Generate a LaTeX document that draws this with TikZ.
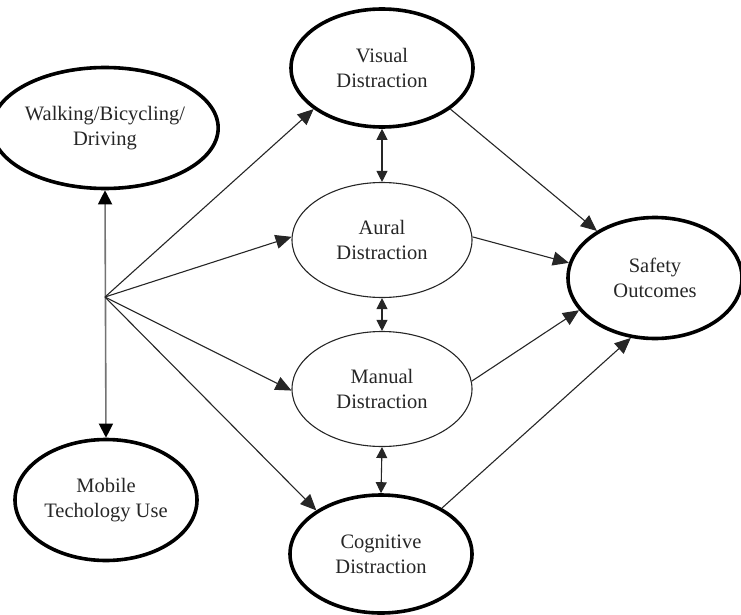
\documentclass[tikz,border=0pt]{standalone}
\usepackage{fontspec}
\setmainfont{Liberation Serif}
\usetikzlibrary{arrows.meta,shapes.geometric}
\begin{document}
\begin{tikzpicture}[x=1pt,y=-1pt,
  oval/.style={ellipse,draw,inner sep=0pt,align=center,
    font=\fontsize{20.5}{25}\selectfont,text=black!85},
  thickoval/.style={oval,line width=3.6pt},
  thinoval/.style={oval,line width=1.1pt,draw=black!85},
  conn/.style={line width=1.1pt,draw=black!85,-{Triangle[length=16pt,width=14pt]}},
  dbl/.style={line width=1.1pt,draw=black!85,{Triangle[length=11pt,width=11pt]}-{Triangle[length=11pt,width=11pt]}},
  vline/.style={line width=1.6pt,draw=black!55,{Triangle[length=14pt,width=14pt,fill=black,color=black]}-{Triangle[length=14pt,width=14pt,fill=black,color=black]}}
]
\useasboundingbox (0,0) rectangle (741,615);
\node[thickoval,minimum width=182pt,minimum height=121pt] (walk) at (105,128) {Walking/Bicycling/\\Driving};
\node[thickoval,minimum width=182pt,minimum height=121pt] (mob) at (106,500) {Mobile\\Techology Use};
\node[thickoval,minimum width=182pt,minimum height=118pt] (vis) at (382,68) {Visual\\Distraction};
\node[thinoval,minimum width=180pt,minimum height=115pt] (aur) at (382,240) {Aural\\Distraction};
\node[thinoval,minimum width=180pt,minimum height=115pt] (man) at (382,389) {Manual\\Distraction};
\node[thickoval,minimum width=182pt,minimum height=118pt] (cog) at (381,554) {Cognitive\\Distraction};
\node[thickoval,minimum width=174pt,minimum height=121pt] (saf) at (655,278) {Safety\\Outcomes};
\coordinate (b) at (105,297);
\draw[vline] (walk.south) -- (mob.north);
\draw[conn] (b) -- (vis.211);
\draw[conn] (b) -- (aur.178);
\draw[conn] (b) -- (man.181);
\draw[conn] (b) -- (cog.146);
\draw[dbl] (vis.south) -- (aur.north);
\draw[dbl] (aur.south) -- (man.north);
\draw[dbl] (man.south) -- (cog.north);
\draw[conn] (vis.329) -- (saf.141);
\draw[conn] (aur.2) -- (saf.170);
\draw[conn] (man.5) -- (saf.203);
\draw[conn] (cog.37) -- (saf.248);
\end{tikzpicture}
\end{document}
